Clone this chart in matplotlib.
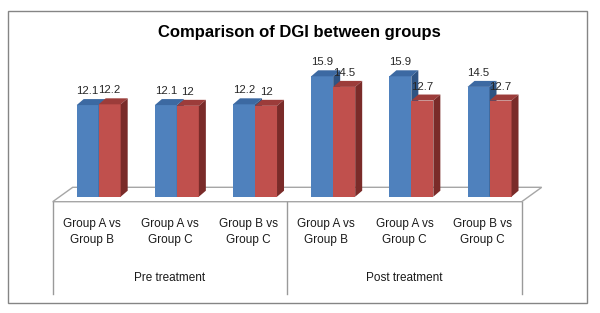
import matplotlib
matplotlib.use("Agg")
import matplotlib.pyplot as plt
from matplotlib.patches import Polygon, Rectangle
import numpy as np

plt.rcParams['font.family'] = ['Liberation Sans', 'DejaVu Sans']

# data
pairs = ["Group A vs\nGroup B", "Group A vs\nGroup C", "Group B vs\nGroup C",
         "Group A vs\nGroup B", "Group A vs\nGroup C", "Group B vs\nGroup C"]
phases = ["Pre treatment", "Post treatment"]
first_vals = [12.1, 12.1, 12.2, 15.9, 15.9, 14.5]
second_vals = [12.2, 12.0, 12.0, 14.5, 12.7, 12.7]
title = "Comparison of DGI between groups"

W, H = 600, 313
fig = plt.figure(figsize=(W / 100, H / 100), dpi=100)
ax_l, ax_b, ax_w, ax_h = 59.6, 116.3, 469.0, 136.3
ax = fig.add_axes([ax_l / W, ax_b / H, ax_w / W, ax_h / H])
ymax = 18
ax.set_xlim(0, len(pairs))
ax.set_ylim(0, ymax)
ax.axis('off')

# data units per pixel
px = len(pairs) / ax_w
py = ymax / ax_h

bw = 22 * px
ddx, ddy = 7 * px, 6 * py
xc = np.arange(len(pairs)) + 0.5

# floor (outline only)
fx0, fy0 = -6.9 * px, -5 * py
fbx, fby = 13.1 * px, 9.4 * py
n = len(pairs)
floor = Polygon([(fx0, fy0), (n + fx0, fy0), (n + fbx, fby), (fbx, fby)],
                closed=True, facecolor='white', edgecolor='#a6a6a6', lw=1,
                clip_on=False, zorder=1)
ax.add_patch(floor)

# category box below the floor
ybot = -96.8 * py
for xv in [0, 3, 6]:
    ax.plot([xv + fx0, xv + fx0], [fy0, ybot], color='#9a9a9a', lw=1,
            clip_on=False, zorder=1)


def bar3d(xs, vals, front, top, side):
    ax.bar(xs, vals, width=bw, color=front, zorder=2)
    for x, v in zip(xs, vals):
        l, r = x - bw / 2, x + bw / 2
        ax.add_patch(Polygon([(l, v), (r, v), (r + ddx, v + ddy), (l + ddx, v + ddy)],
                             closed=True, facecolor=top, edgecolor='none', zorder=2))
        ax.add_patch(Polygon([(r, 0), (r, v), (r + ddx, v + ddy), (r + ddx, ddy)],
                             closed=True, facecolor=side, edgecolor='none', zorder=2))
        ax.text(x, v + 14 * py, '%g' % v, ha='center', va='center',
                fontsize=8.2, color='#262626', zorder=3)


bar3d(xc - bw / 2, first_vals, '#4f81bd', '#3c69a2', '#2f5483')
bar3d(xc + bw / 2, second_vals, '#c0504d', '#9c3c3a', '#7a2b29')

for x, lab in zip(xc, pairs):
    ax.text(x + fx0, -35.3 * py, lab, ha='center', va='center', fontsize=8.5,
            linespacing=1.4, color='#1a1a1a')
for i, lab in enumerate(phases):
    ax.text(1.5 + 3 * i + fx0, -81.3 * py, lab, ha='center', va='center',
            fontsize=8.5, color='#1a1a1a')

fig.text(299 / W, 1 - 33 / H, title, ha='center', va='center',
         fontsize=12, fontweight='bold')

fig.add_artist(Rectangle((8.3 / W, 10 / H), (586.7 - 8.3) / W, (303 - 11.3) / H,
                         transform=fig.transFigure, fill=False,
                         edgecolor='#858585', lw=1))

fig.savefig('out.png', dpi=100)
